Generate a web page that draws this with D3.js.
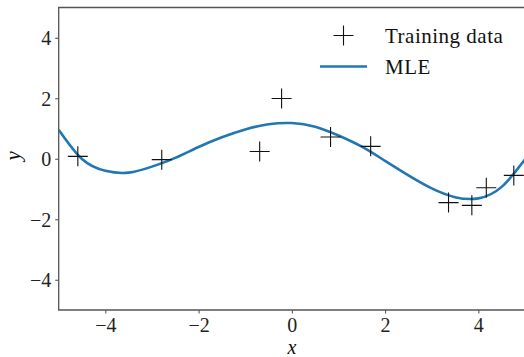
<!DOCTYPE html>
<html>
<head>
<meta charset="utf-8">
<script src="https://cdn.jsdelivr.net/npm/d3@7"></script>
<style>
  body { margin: 0; background: #fff; }
  text { font-family: "Liberation Serif", "DejaVu Serif", serif; }
</style>
</head>
<body>
<div id="chart"></div>
<script>
let width = 524,
    height = 357,
    margin = ({ top: 7.5, right: -1, bottom: 47, left: 58.7 });

// training points
const trainX = [-4.59, -2.79, -0.69, -0.22, 0.83, 1.69, 3.36, 3.86, 4.17, 4.76];
const trainY = [0.08, -0.03, 0.24, 1.99, 0.72, 0.41, -1.45, -1.54, -0.96, -0.55];

// MLE curve, every 0.5
const mleX = [-5, -4.5, -4, -3.5, -3, -2.5, -2, -1.5, -1, -0.5, 0, 0.5, 1, 1.5, 2, 2.5, 3, 3.5, 4, 4.5, 5];
const mleY = [0.96, -0.01, -0.40, -0.46, -0.26, 0.03, 0.39, 0.71, 0.97, 1.14, 1.18, 1.06, 0.77, 0.40, -0.07, -0.55, -0.98, -1.27, -1.31, -0.93, -0.02];

const xTicks = [-4, -2, 0, 2, 4];
const yTicks = [-4, -2, 0, 2, 4];

const svg = d3.select("#chart")
    .append("svg")
    .attr("width", width)
    .attr("height", height);

let x = d3.scaleLinear()
    .domain([-5, 5])
    .range([margin.left, width - margin.right]);

let y = d3.scaleLinear()
    .domain([-5, 5])
    .range([height - margin.bottom, margin.top]);

const fmt = d => (d < 0 ? "\u2212" + Math.abs(d) : "" + d);

svg.append("defs").append("clipPath").attr("id", "clip")
    .append("rect")
    .attr("x", x(-5)).attr("y", y(5))
    .attr("width", x(5) - x(-5)).attr("height", y(-5) - y(5));

// axes
const xAxis = svg.append("g")
    .attr("transform", `translate(0,${y(-5)})`)
    .call(d3.axisBottom(x).tickValues(xTicks).tickFormat(fmt).tickSize(3.5).tickPadding(4));

const yAxis = svg.append("g")
    .attr("transform", `translate(${x(-5)},0)`)
    .call(d3.axisLeft(y).tickValues(yTicks).tickFormat(fmt).tickSize(3.5).tickPadding(4));

[xAxis, yAxis].forEach(g => {
    g.select(".domain").remove();
    g.selectAll(".tick line").attr("stroke", "#333").attr("stroke-width", 0.9);
    g.selectAll(".tick text")
        .attr("fill", "#222")
        .style("font-size", "20px");
});
yAxis.selectAll(".tick text").attr("dy", "0.34em");

// spines
svg.append("path")
    .attr("d", `M${x(5)},${y(5)}H${x(-5)}V${y(-5)}H${x(5)}`)
    .attr("fill", "none")
    .attr("stroke", "#555")
    .attr("stroke-width", 1.3);

// axis labels
svg.append("text")
    .attr("x", x(0))
    .attr("y", 354)
    .attr("text-anchor", "middle")
    .style("font-style", "italic")
    .style("font-size", "20px")
    .attr("fill", "#111")
    .text("x");

svg.append("text")
    .attr("transform", `translate(20,${y(0) - 3}) rotate(-90)`)
    .attr("text-anchor", "middle")
    .style("font-style", "italic")
    .style("font-size", "21px")
    .attr("fill", "#111")
    .text("y");

const plot = svg.append("g").attr("clip-path", "url(#clip)");

// MLE line
const line = d3.line()
    .x(d => x(d[0]))
    .y(d => y(d[1]))
    .curve(d3.curveNatural);

plot.append("path")
    .datum(d3.zip(mleX, mleY))
    .attr("d", line)
    .attr("fill", "none")
    .attr("stroke", "#1f77b4")
    .attr("stroke-width", 2.6);

// training data as "+" markers
const plus = r => `M${-r},0H${r}M0,${-r}V${r}`;

svg.append("g")
    .selectAll("path")
    .data(d3.zip(trainX, trainY))
    .join("path")
    .attr("transform", d => `translate(${x(d[0])},${y(d[1])})`)
    .attr("d", plus(10))
    .attr("fill", "none")
    .attr("stroke", "#111")
    .attr("stroke-width", 1.1);

// legend
const legend = svg.append("g");
legend.append("path")
    .attr("transform", "translate(343.5,35.5)")
    .attr("d", plus(10))
    .attr("stroke", "#111")
    .attr("stroke-width", 1.1);
legend.append("line")
    .attr("x1", 320).attr("x2", 367)
    .attr("y1", 66.5).attr("y2", 66.5)
    .attr("stroke", "#1f77b4")
    .attr("stroke-width", 2.6);
legend.append("text")
    .attr("x", 385).attr("y", 43)
    .style("font-size", "21px")
    .style("letter-spacing", "0.5px")
    .attr("fill", "#111")
    .text("Training data");
legend.append("text")
    .attr("x", 385).attr("y", 74)
    .style("font-size", "21px")
    .style("letter-spacing", "0.5px")
    .attr("fill", "#111")
    .text("MLE");
</script>
</body>
</html>
